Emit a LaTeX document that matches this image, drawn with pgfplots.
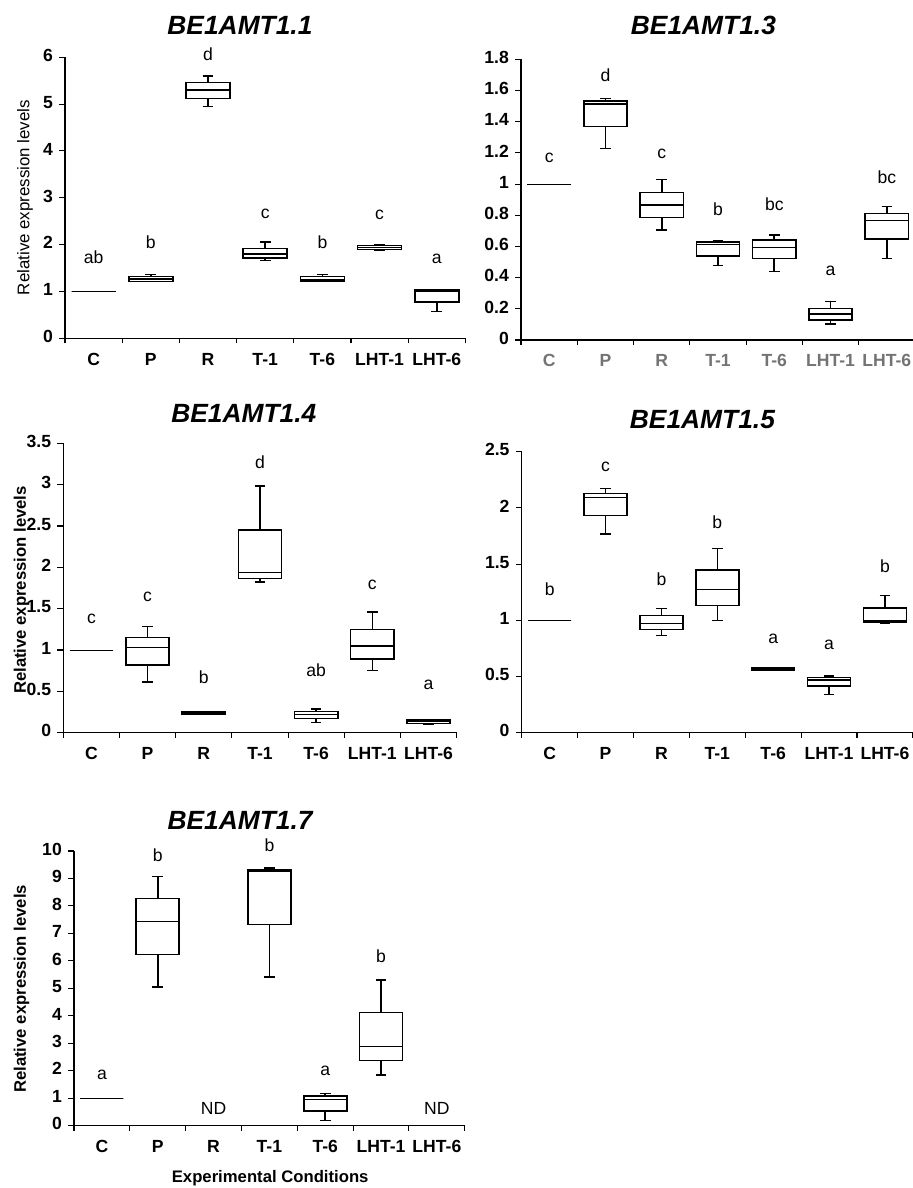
\documentclass[border=0pt]{standalone}
\usepackage{fontspec}
\setmainfont{Liberation Sans}
\usepackage{pgfplots}
\pgfplotsset{compat=1.18}
\usepackage{pgfplotstable}
\usepgfplotslibrary{statistics}

% prepared box statistics, one row per condition (C P R T-1 T-6 LHT-1 LHT-6)
\pgfplotstableread{
lw lq med uq uw
1 1 1 1 1
1.21 1.21 1.26 1.32 1.36
4.95 5.12 5.30 5.46 5.60
1.665 1.72 1.80 1.915 2.06
1.21 1.21 1.245 1.32 1.36
1.886 1.90 1.94 1.98 1.99
0.57 0.78 1.01 1.03 1.03
}\dA
\pgfplotstableread{
lw lq med uq uw
1 1 1 1 1
1.229 1.368 1.513 1.533 1.548
0.705 0.785 0.866 0.947 1.03
0.477 0.539 0.613 0.628 0.639
0.438 0.522 0.594 0.641 0.675
0.103 0.128 0.167 0.201 0.246
0.522 0.648 0.767 0.812 0.855
}\dB
\pgfplotstableread{
lw lq med uq uw
1 1 1 1 1
0.613 0.819 1.032 1.149 1.282
0.222 0.222 0.234 0.25 0.258
1.823 1.863 1.935 2.452 2.984
0.121 0.173 0.222 0.254 0.29
0.754 0.891 1.048 1.25 1.46
0.10 0.113 0.133 0.153 0.153
}\dC
\pgfplotstableread{
lw lq med uq uw
1 1 1 1 1
1.767 1.931 2.094 2.129 2.171
0.866 0.919 0.973 1.044 1.106
0.999 1.133 1.275 1.45 1.64
0.555 0.555 0.563 0.575 0.581
0.341 0.415 0.469 0.492 0.504
0.973 0.985 0.999 1.109 1.222
}\dD
% BE1AMT1.7: R and LHT-6 not detected (rows are C P T-1 T-6 LHT-1)
\pgfplotstableread{
lw lq med uq uw
1 1 1 1 1
5.049 6.238 7.427 8.265 9.066
5.41 7.33 9.27 9.33 9.38
0.194 0.534 0.959 1.08 1.165
1.845 2.367 2.876 4.126 5.303
}\dE

\pgfplotsset{
  panel/.style={
    scale only axis, clip=false,
    xmin=0.5, xmax=7.5, ymin=0,
    axis x line*=bottom, axis y line*=left,
    axis line style={black, line width=0.6pt},
    xtick={1,...,7}, xticklabels={C,P,R,T-1,T-6,LHT-1,LHT-6},
    minor xtick={0.5,1.5,...,7.5},
    major x tick style={draw=none},
    tick align=outside, major tick length=0.12cm, minor tick length=0.1cm,
    tick style={black, line width=0.6pt},
    /pgf/number format/assume math mode=true,
    scaled y ticks=false,
    typeset ticklabels with strut,
    yticklabel style={font=\fontsize{10}{12}\selectfont\bfseries},
    xticklabel style={font=\fontsize{10}{12}\selectfont\bfseries},
    every axis title shift=0pt,
    title style={font=\fontsize{15}{18}\selectfont\bfseries\itshape, anchor=center},
  },
  bxs/.style={black, solid,
    boxplot/draw direction=y,
    boxplot/box extend=0.77, boxplot/whisker extend=0.19},
}
\tikzset{lab/.style={font=\fontsize{10}{12}\selectfont, anchor=base, inner sep=0pt}}

% draw one prepared box: table, row, position (control C is a thin flat line)
\newcommand\bxrow[3]{%
  \pgfplotstablegetelem{#2}{lw}\of#1\edef\vlw{\pgfplotsretval}%
  \pgfplotstablegetelem{#2}{lq}\of#1\edef\vlq{\pgfplotsretval}%
  \pgfplotstablegetelem{#2}{med}\of#1\edef\vmed{\pgfplotsretval}%
  \pgfplotstablegetelem{#2}{uq}\of#1\edef\vuq{\pgfplotsretval}%
  \pgfplotstablegetelem{#2}{uw}\of#1\edef\vuw{\pgfplotsretval}%
  \ifnum#3=1 \def\vlwd{0.55pt}\else\def\vlwd{0.9pt}\fi
  \edef\tmp{\noexpand\addplot[bxs, line width=\vlwd,
    boxplot/every median/.style={line width=\vlwd},
    boxplot prepared={draw position=#3,
    lower whisker=\vlw, lower quartile=\vlq, median=\vmed,
    upper quartile=\vuq, upper whisker=\vuw}] coordinates {};}%
  \tmp}

\begin{document}
\begin{tikzpicture}
\useasboundingbox (0,0) rectangle (18.24,23.76);

% ---- BE1AMT1.1
\begin{axis}[panel, at={(1.30cm,16.994cm)}, anchor=south west,
  width=8.008cm, height=5.62cm, ymax=6, ytick={0,...,6},
  title={BE1AMT1.1}, title style={at={(0.437,1.115)}},
  ylabel={Relative expression levels},
  ylabel style={font=\fontsize{9.6}{11}\selectfont, at={(axis description cs:-0.1,0.501)}, anchor=center}]
\pgfplotsinvokeforeach{0,...,6}{\bxrow{\dA}{#1}{\the\numexpr#1+1\relax}}
\node[lab] at (axis cs:1,1.60) {ab};
\node[lab] at (axis cs:2,1.92) {b};
\node[lab] at (axis cs:3,5.94) {d};
\node[lab] at (axis cs:4,2.56) {c};
\node[lab] at (axis cs:5,1.92) {b};
\node[lab] at (axis cs:6,2.53) {c};
\node[lab] at (axis cs:7,1.59) {a};
\end{axis}

% ---- BE1AMT1.3
\begin{axis}[panel, at={(10.42cm,16.96cm)}, anchor=south west,
  width=7.88cm, height=5.614cm, ymax=1.8,
  ytick={0,0.2,0.4,0.6,0.8,1,1.2,1.4,1.6,1.8},
  xticklabel style={text=black!55},
  title={BE1AMT1.3}, title style={at={(0.463,1.119)}}]
\pgfplotsinvokeforeach{0,...,6}{\bxrow{\dB}{#1}{\the\numexpr#1+1\relax}}
\node[lab] at (axis cs:1,1.14) {c};
\node[lab] at (axis cs:2,1.657) {d};
\node[lab] at (axis cs:3,1.165) {c};
\node[lab] at (axis cs:4,0.797) {b};
\node[lab] at (axis cs:5,0.829) {bc};
\node[lab] at (axis cs:6,0.413) {a};
\node[lab] at (axis cs:7,1.005) {bc};
\end{axis}

% ---- BE1AMT1.4
\begin{axis}[panel, at={(1.266cm,9.106cm)}, anchor=south west,
  width=7.866cm, height=5.788cm, ymax=3.5, ytick={0,0.5,...,3.5},
  title={BE1AMT1.4}, title style={at={(0.459,1.104)}},
  ylabel={Relative expression levels},
  ylabel style={font=\fontsize{9.5}{11}\selectfont\bfseries, at={(axis description cs:-0.106,0.493)}, anchor=center}]
\pgfplotsinvokeforeach{0,...,6}{\bxrow{\dC}{#1}{\the\numexpr#1+1\relax}}
\node[lab] at (axis cs:1,1.32) {c};
\node[lab] at (axis cs:2,1.585) {c};
\node[lab] at (axis cs:3,0.597) {b};
\node[lab] at (axis cs:4,3.19) {d};
\node[lab] at (axis cs:5,0.677) {ab};
\node[lab] at (axis cs:6,1.734) {c};
\node[lab] at (axis cs:7,0.524) {a};
\end{axis}

% ---- BE1AMT1.5
\begin{axis}[panel, at={(10.434cm,9.106cm)}, anchor=south west,
  width=7.824cm, height=5.62cm, ymax=2.5, ytick={0,0.5,1,1.5,2,2.5},
  title={BE1AMT1.5}, title style={at={(0.462,1.113)}}]
\pgfplotsinvokeforeach{0,...,6}{\bxrow{\dD}{#1}{\the\numexpr#1+1\relax}}
\node[lab] at (axis cs:1,1.225) {b};
\node[lab] at (axis cs:2,2.322) {c};
\node[lab] at (axis cs:3,1.314) {b};
\node[lab] at (axis cs:4,1.818) {b};
\node[lab] at (axis cs:5,0.795) {a};
\node[lab] at (axis cs:6,0.741) {a};
\node[lab] at (axis cs:7,1.426) {b};
\end{axis}

% ---- BE1AMT1.7
\begin{axis}[panel, at={(1.48cm,1.246cm)}, anchor=south west,
  width=7.816cm, height=5.494cm, ymax=10, ytick={0,...,10},
  title={BE1AMT1.7}, title style={at={(0.425,1.113)}},
  ylabel={Relative expression levels},
  ylabel style={font=\fontsize{9.5}{11}\selectfont\bfseries, at={(axis description cs:-0.134,0.498)}, anchor=center},
  xlabel={Experimental Conditions},
  xlabel style={font=\fontsize{9.5}{11}\selectfont\bfseries, at={(axis description cs:0.502,-0.19)}, anchor=center}]
\bxrow{\dE}{0}{1}
\bxrow{\dE}{1}{2}
\bxrow{\dE}{2}{4}
\bxrow{\dE}{3}{5}
\bxrow{\dE}{4}{6}
\node[lab] at (axis cs:1,1.70) {a};
\node[lab] at (axis cs:2,9.61) {b};
\node[lab] at (axis cs:4,9.98) {b};
\node[lab] at (axis cs:5,1.81) {a};
\node[lab] at (axis cs:6,5.93) {b};
\node[lab] at (axis cs:3,0.39) {ND};
\node[lab] at (axis cs:7,0.39) {ND};
\end{axis}
\end{tikzpicture}
\end{document}
